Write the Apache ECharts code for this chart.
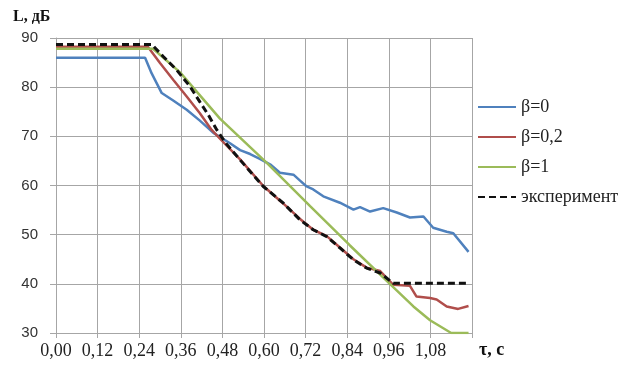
<!DOCTYPE html>
<html>
<head>
<meta charset="utf-8">
<script src="https://cdn.jsdelivr.net/npm/echarts@6/dist/echarts.min.js"></script>
<style>
  html, body { margin: 0; padding: 0; background: #fff; }
  #chart { width: 619px; height: 370px; }
</style>
</head>
<body>
<div id="chart"></div>
<script>
// подписи
var legendNames = ['β=0', 'β=0,2', 'β=1', 'эксперимент'];

// β=0
var tBeta0 = [0, 0.257, 0.276, 0.305, 0.338, 0.377, 0.415, 0.454, 0.502, 0.531, 0.56, 0.588, 0.62, 0.646, 0.685, 0.704, 0.723, 0.742, 0.771, 0.819, 0.858, 0.877, 0.906, 0.944, 0.983, 1.021, 1.06, 1.088, 1.127, 1.146, 1.19];
var LBeta0 = [86, 86, 82.8, 78.8, 77.3, 75.4, 73.2, 70.7, 68.6, 67.2, 66.4, 65.4, 64.2, 62.6, 62.2, 61.0, 59.8, 59.2, 57.8, 56.5, 55.1, 55.6, 54.7, 55.4, 54.5, 53.5, 53.7, 51.4, 50.6, 50.3, 46.5];

// β=0,2
var tBeta02 = [0, 0.265, 0.30, 0.338, 0.377, 0.415, 0.449, 0.48, 0.531, 0.598, 0.656, 0.704, 0.742, 0.781, 0.819, 0.858, 0.896, 0.935, 0.973, 1.021, 1.04, 1.079, 1.098, 1.127, 1.16, 1.19];
var LBeta02 = [88.2, 88.2, 84.9, 81.5, 78.1, 74.7, 71.3, 69.0, 65.3, 59.9, 56.3, 53.2, 51.0, 49.7, 47.4, 45.0, 43.3, 42.6, 39.8, 39.6, 37.4, 37.1, 36.8, 35.4, 34.9, 35.5];

// β=1
var tBeta1 = [0, 0.28, 0.358, 0.473, 0.608, 0.733, 0.848, 0.963, 1.031, 1.079, 1.14, 1.19];
var LBeta1 = [87.8, 87.8, 83.0, 73.6, 64.6, 55.8, 47.8, 40.0, 35.4, 32.6, 30, 30];

// эксперимент
var tExp = [0, 0.276, 0.31, 0.348, 0.387, 0.415, 0.439, 0.464, 0.49, 0.531, 0.598, 0.656, 0.704, 0.742, 0.781, 0.819, 0.858, 0.896, 0.935, 0.973, 1.19];
var LExp = [88.7, 88.7, 86.2, 83.5, 80.1, 77.0, 74.4, 71.3, 68.6, 65.2, 59.8, 56.4, 53.0, 51.0, 49.6, 47.3, 44.9, 43.2, 42.2, 40.1, 40.1];

function pairs(t, L) {
    var out = [];
    for (var i = 0; i < t.length; i++) {
        out.push([t[i], L[i]]);
    }
    return out;
}

var serif = '"Liberation Serif", "DejaVu Serif", serif';
var gridColor = '#a6a6a6';

var chart = echarts.init(document.getElementById('chart'));

function line(name, t, L, color, width, type) {
    return {
        name: name,
        type: 'line',
        data: pairs(t, L),
        symbol: 'none',
        smooth: false,
        animation: false,
        lineStyle: { color: color, width: width, type: type || 'solid' },
        itemStyle: { color: color }
    };
}

chart.setOption({
    animation: false,
    backgroundColor: '#fff',
    grid: { left: 56, right: 147, top: 38, bottom: 37 },
    legend: {
        orient: 'vertical',
        left: 472,
        top: 93,
        itemWidth: 38,
        itemHeight: 14,
        itemGap: 12,
        itemStyle: { opacity: 0 },
        data: legendNames,
        textStyle: { fontFamily: serif, fontSize: 18, color: '#222' }
    },
    xAxis: {
        type: 'value',
        min: 0,
        max: 1.2,
        interval: 0.12,
        axisLine: { lineStyle: { color: gridColor, width: 1 } },
        axisTick: { show: true, length: 5, lineStyle: { color: gridColor } },
        splitLine: { show: true, lineStyle: { color: gridColor, width: 1 } },
        axisLabel: {
            margin: 9,
            fontFamily: serif,
            fontSize: 18,
            color: '#222',
            formatter: function (v) {
                if (v > 1.15) return '';
                return v.toFixed(2).replace('.', ',');
            }
        }
    },
    yAxis: {
        type: 'value',
        min: 30,
        max: 90,
        interval: 10,
        axisLine: { show: true, lineStyle: { color: gridColor, width: 1 } },
        axisTick: { show: true, length: 6, lineStyle: { color: gridColor } },
        splitLine: { show: true, lineStyle: { color: gridColor, width: 1 } },
        axisLabel: {
            margin: 18,
            fontFamily: '"Liberation Sans", sans-serif',
            fontSize: 15,
            color: '#333'
        }
    },
    graphic: [
        {
            type: 'text', left: 13, top: 9,
            style: { text: 'L, дБ', font: 'bold 16px ' + serif, fill: '#111' }
        },
        {
            type: 'text', left: 479, top: 341,
            style: { text: 'τ, c', font: 'bold 18px ' + serif, fill: '#111' }
        }
    ],
    series: [
        line(legendNames[0], tBeta0, LBeta0, '#4f81bd', 2.5),
        line(legendNames[1], tBeta02, LBeta02, '#b04e4b', 2.5),
        line(legendNames[2], tBeta1, LBeta1, '#9bbb59', 2.5),
        line(legendNames[3], tExp, LExp, '#111', 3, [7, 4])
    ]
});
</script>
</body>
</html>
